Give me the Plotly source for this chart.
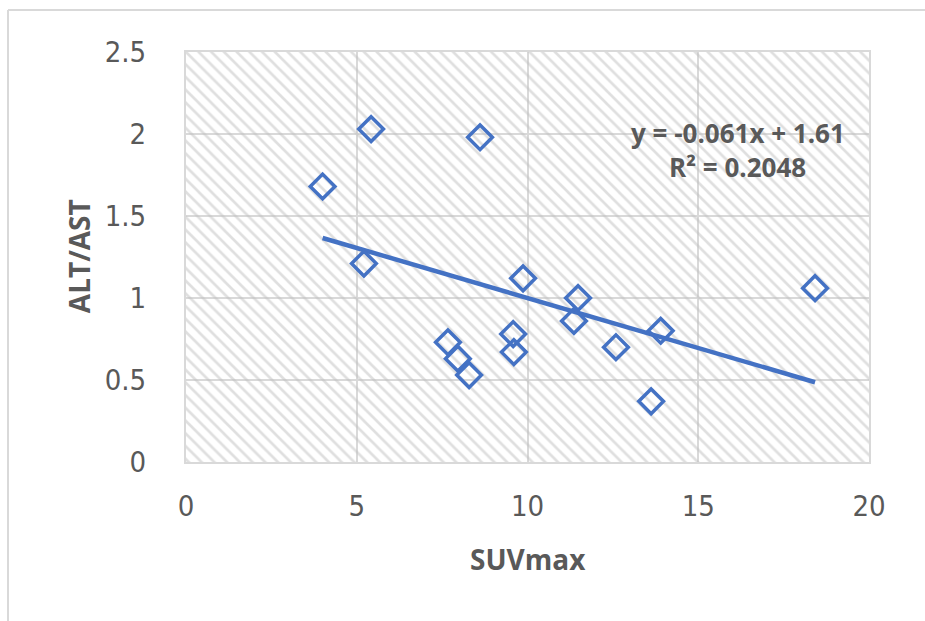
import plotly.graph_objects as go

# ---- data ----
suvmax = [4.0, 5.42, 5.21, 8.61, 7.67, 7.96, 8.29, 9.58, 9.60, 9.87, 11.48, 11.36, 12.59, 13.62, 13.90, 18.42]
alt_ast = [1.68, 2.03, 1.21, 1.98, 0.73, 0.63, 0.53, 0.78, 0.67, 1.12, 1.00, 0.86, 0.70, 0.37, 0.80, 1.06]

trend_slope = -0.061
trend_intercept = 1.61
equation_text = "y = -0.061x + 1.61"
r2_text = "R² = 0.2048"

x_tickvals = [0, 5, 10, 15, 20]
x_ticktext = ["0", "5", "10", "15", "20"]
y_tickvals = [0, 0.5, 1, 1.5, 2, 2.5]
y_ticktext = ["0", "0.5", "1", "1.5", "2", "2.5"]
x_range = [0, 20]
y_range = [0, 2.5]

x_title = "SUVmax"
y_title = "ALT/AST"

BLUE = "#4472C4"
GRAY_TXT = "#595959"
GRID = "#d9d9d9"
TICK_FONT = "DejaVu Sans Condensed, Liberation Sans Narrow, Arial Narrow, Liberation Sans, sans-serif"
BOLD_FONT = "Open Sans, Liberation Sans, sans-serif"

fig = go.Figure()

# hatched plot-area background
fig.add_trace(go.Scatter(
    x=[x_range[0], x_range[1], x_range[1], x_range[0], x_range[0]],
    y=[y_range[0], y_range[0], y_range[1], y_range[1], y_range[0]],
    mode="lines", line=dict(width=0), fill="toself",
    fillcolor="rgba(0,0,0,0)",
    fillpattern=dict(shape="\\", fgcolor="#c0c0c0", bgcolor="rgba(0,0,0,0)",
                     size=9, solidity=0.3),
    hoverinfo="skip", showlegend=False,
))

# trend line from displayed equation
x0, x1 = min(suvmax), max(suvmax)
fig.add_trace(go.Scatter(
    x=[x0, x1],
    y=[trend_slope * x0 + trend_intercept, trend_slope * x1 + trend_intercept],
    mode="lines", line=dict(color=BLUE, width=4.5), showlegend=False,
))

fig.add_trace(go.Scatter(
    x=suvmax, y=alt_ast, mode="markers",
    marker=dict(symbol="diamond-open", size=19, color=BLUE, line=dict(width=3.5, color=BLUE)),
    showlegend=False,
))

axis_common = dict(
    showgrid=True, gridcolor=GRID, gridwidth=2,
    showline=True, linecolor=GRID, linewidth=2, mirror=True,
    zeroline=False, ticks="",
    tickfont=dict(family=TICK_FONT, size=29, color=GRAY_TXT),
)
fig.update_xaxes(range=x_range, tickvals=x_tickvals, ticktext=x_ticktext,
                 ticklabelstandoff=17, **axis_common)
fig.update_yaxes(range=y_range, tickvals=y_tickvals, ticktext=y_ticktext,
                 ticklabelstandoff=32, **axis_common)

annots = [
    dict(x=0.5, y=-0.2366, xref="paper", yref="paper", text=f"<b>{x_title}</b>",
         showarrow=False, xanchor="center", yanchor="middle",
         font=dict(family=BOLD_FONT, size=28, color=GRAY_TXT)),
    dict(x=-0.1567, y=0.502, xref="paper", yref="paper", text=f"<b>{y_title}</b>",
         showarrow=False, xanchor="center", yanchor="middle", textangle=-90,
         font=dict(family=BOLD_FONT, size=28, color=GRAY_TXT)),
    dict(x=16.16, y=2.006, xref="x", yref="y", text=f"<b>{equation_text}</b>",
         showarrow=False, xanchor="center", yanchor="middle",
         font=dict(family=BOLD_FONT, size=26, color=GRAY_TXT)),
    dict(x=16.16, y=1.80, xref="x", yref="y", text=f"<b>{r2_text}</b>",
         showarrow=False, xanchor="center", yanchor="middle",
         font=dict(family=BOLD_FONT, size=26, color=GRAY_TXT)),
]

shapes = [
    dict(type="line", xref="paper", yref="paper", x0=-0.2606, x1=1.09, y0=1.1024, y1=1.1024,
         line=dict(color="#d9d9d9", width=2)),
    dict(type="line", xref="paper", yref="paper", x0=-0.2606, x1=-0.2606, y0=1.1024, y1=-0.40,
         line=dict(color="#d9d9d9", width=2)),
]

fig.update_layout(
    width=925, height=621,
    margin=dict(l=186, r=56, t=52, b=159),
    paper_bgcolor="white", plot_bgcolor="white",
    annotations=annots, shapes=shapes,
    showlegend=False,
)

fig.write_html("out.html")
